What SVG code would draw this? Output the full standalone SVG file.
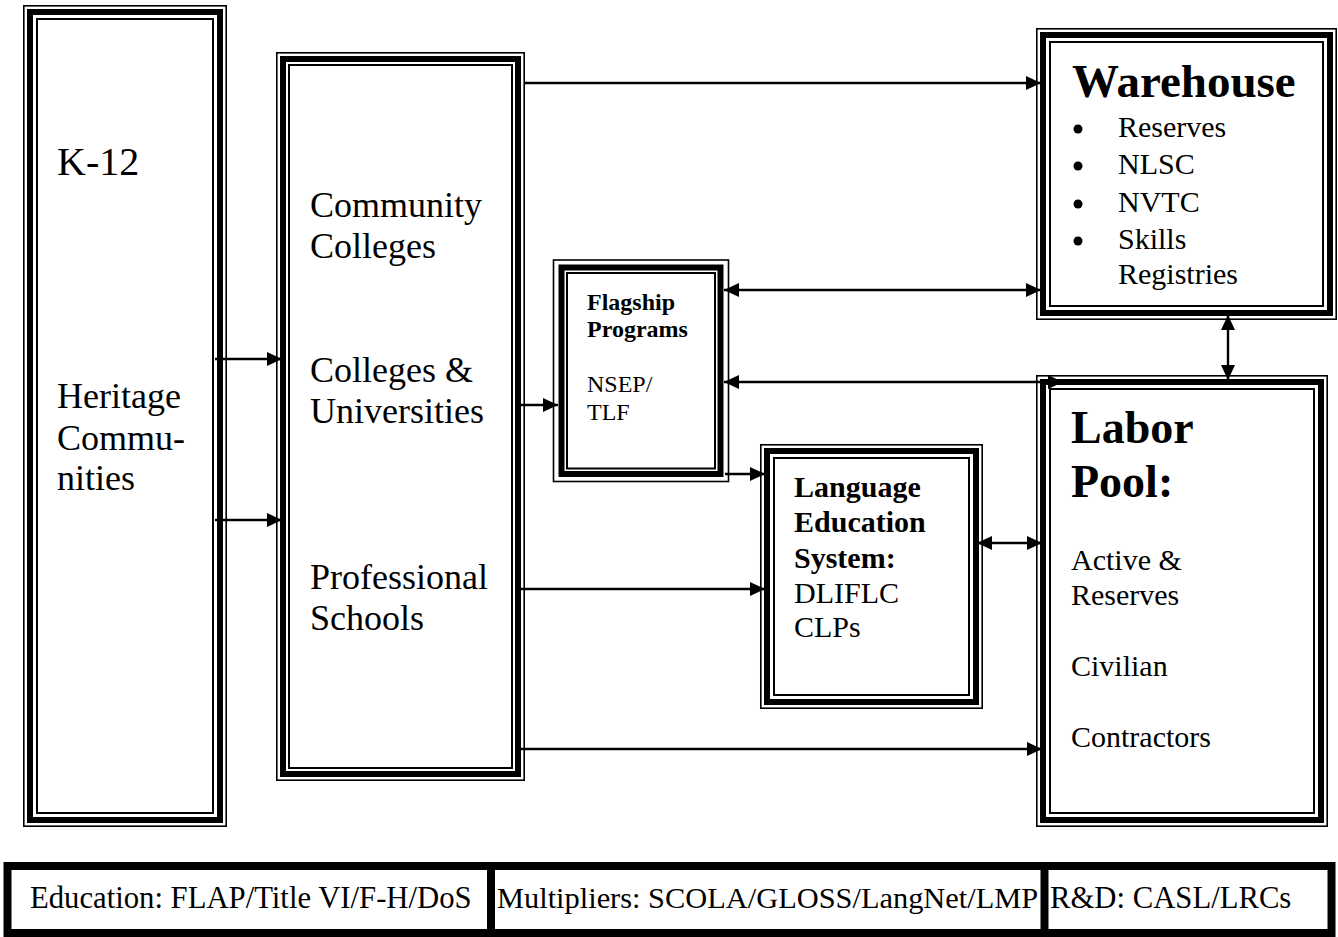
<svg xmlns="http://www.w3.org/2000/svg" width="1338" height="937" viewBox="0 0 1338 937">
<style>
.o{fill:#fff;stroke:#000;stroke-width:1.6}
.t{fill:none;stroke:#000;stroke-width:6}
.i{fill:none;stroke:#000;stroke-width:2}
text{font-family:"Liberation Serif","Times New Roman",serif;fill:#000}
.b{font-weight:bold}
.c{fill:none;stroke:#000;stroke-width:2.4}
</style>
<defs>
<marker id="ah" viewBox="0 0 15 14" refX="15" refY="7" markerWidth="15" markerHeight="14" markerUnits="userSpaceOnUse" orient="auto-start-reverse">
<path d="M0,0 L15,7 L0,14 z" fill="#000"/>
</marker>
</defs>
<rect width="1338" height="937" fill="#fff"/>

<g id="k12">
<rect class="o" x="23.8" y="5.8" width="202.4" height="820.4"/>
<rect class="t" x="30" y="12" width="190" height="808"/>
<rect class="i" x="37" y="19" width="176" height="794"/>
<text x="57" y="175" font-size="40">K-12</text>
<text x="57" y="408" font-size="36">Heritage</text>
<text x="57" y="450" font-size="36">Commu-</text>
<text x="57" y="490" font-size="36">nities</text>
</g>

<g id="colleges">
<rect class="o" x="276.8" y="52.8" width="247.4" height="727.4"/>
<rect class="t" x="283" y="59" width="235" height="715"/>
<rect class="i" x="289" y="65" width="223" height="703"/>
<text x="310" y="217" font-size="36">Community</text>
<text x="310" y="258" font-size="36">Colleges</text>
<text x="310" y="382" font-size="36">Colleges &amp;</text>
<text x="310" y="423" font-size="36">Universities</text>
<text x="310" y="589" font-size="36">Professional</text>
<text x="310" y="630" font-size="36">Schools</text>
</g>

<g id="flagship">
<rect class="o" x="553.5" y="260" width="175" height="221.5"/>
<rect class="t" x="561.5" y="267.5" width="159" height="206.5"/>
<rect class="i" x="567" y="273" width="148" height="195.5"/>
<text class="b" x="587" y="310" font-size="24">Flagship</text>
<text class="b" x="587" y="337" font-size="24">Programs</text>
<text x="587" y="392" font-size="24">NSEP/</text>
<text x="587" y="420" font-size="24">TLF</text>
</g>

<g id="langed">
<rect class="o" x="760.8" y="444.8" width="221.4" height="263.4"/>
<rect class="t" x="767" y="451" width="209" height="251"/>
<rect class="i" x="774" y="458" width="195" height="237"/>
<text class="b" x="794" y="497" font-size="30">Language</text>
<text class="b" x="794" y="532" font-size="30">Education</text>
<text class="b" x="794" y="568" font-size="30">System:</text>
<text x="794" y="603" font-size="30">DLIFLC</text>
<text x="794" y="637" font-size="30">CLPs</text>
</g>

<g id="warehouse">
<rect class="o" x="1036.8" y="28.8" width="299.4" height="290.4"/>
<rect class="t" x="1043" y="35" width="287" height="278"/>
<rect class="i" x="1050" y="42" width="273" height="264"/>
<text class="b" x="1072" y="97" font-size="47">Warehouse</text>
<circle cx="1078" cy="129" r="4.5"/>
<circle cx="1078" cy="166" r="4.5"/>
<circle cx="1078" cy="204" r="4.5"/>
<circle cx="1078" cy="241" r="4.5"/>
<text x="1118" y="137" font-size="30">Reserves</text>
<text x="1118" y="174" font-size="30">NLSC</text>
<text x="1118" y="212" font-size="30">NVTC</text>
<text x="1118" y="249" font-size="30">Skills</text>
<text x="1118" y="284" font-size="30">Registries</text>
</g>

<g id="laborpool">
<rect class="o" x="1036.8" y="375.8" width="290.4" height="450.4"/>
<rect class="t" x="1043" y="382" width="278" height="438"/>
<rect class="i" x="1050" y="389" width="264" height="424"/>
<text class="b" x="1071" y="443" font-size="46">Labor</text>
<text class="b" x="1071" y="497" font-size="46">Pool:</text>
<text x="1071" y="570" font-size="30">Active &amp;</text>
<text x="1071" y="605" font-size="30">Reserves</text>
<text x="1071" y="676" font-size="30">Civilian</text>
<text x="1071" y="747" font-size="30">Contractors</text>
</g>

<g id="bottombar">
<rect x="7.5" y="866" width="1324" height="67" fill="#fff" stroke="#000" stroke-width="8"/>
<line x1="491" y1="866" x2="491" y2="933" stroke="#000" stroke-width="8"/>
<line x1="1044.5" y1="866" x2="1044.5" y2="933" stroke="#000" stroke-width="8"/>
<text x="30" y="908" font-size="30.7">Education: FLAP/Title VI/F-H/DoS</text>
<text x="497" y="908" font-size="30.4">Multipliers: SCOLA/GLOSS/LangNet/LMP</text>
<text x="1050" y="908" font-size="30.7">R&amp;D: CASL/LRCs</text>
</g>

<g id="connectors">
<path class="c" d="M215,359 H282" marker-end="url(#ah)"/>
<path class="c" d="M215,520 H282" marker-end="url(#ah)"/>
<path class="c" d="M518,405 H558" marker-end="url(#ah)"/>
<path class="c" d="M525,83 H1041" marker-end="url(#ah)"/>
<path class="c" d="M724,290 H1041" marker-start="url(#ah)" marker-end="url(#ah)"/>
<path class="c" d="M724,382 H1063" marker-start="url(#ah)" marker-end="url(#ah)"/>
<path class="c" d="M1228,315 V380" marker-start="url(#ah)" marker-end="url(#ah)"/>
<path class="c" d="M725,474 H765" marker-end="url(#ah)"/>
<path class="c" d="M977,543 H1042" marker-start="url(#ah)" marker-end="url(#ah)"/>
<path class="c" d="M520,589 H765" marker-end="url(#ah)"/>
<path class="c" d="M520,749 H1042" marker-end="url(#ah)"/>
</g>
</svg>
